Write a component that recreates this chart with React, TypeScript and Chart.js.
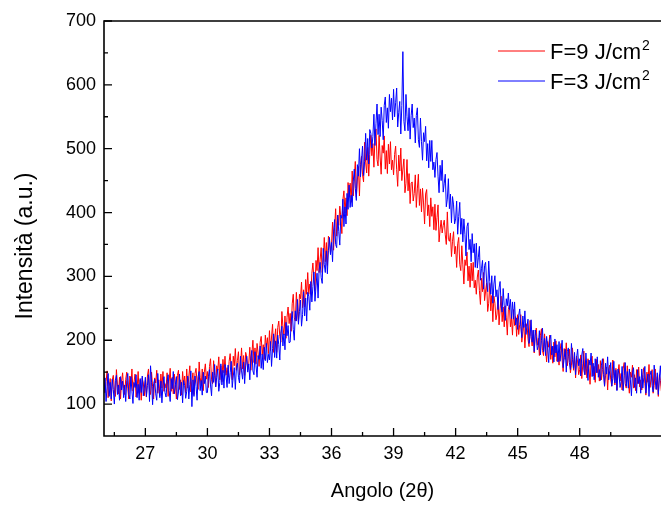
import { useEffect, useRef } from "react";
import { Chart, registerables } from "chart.js";

Chart.register(...registerables);

// ---- data ----
const ANGLE_START = 25; // 2θ of the first sample
const ANGLE_STEP = 0.05; // sampling step of the scan

const X_MIN = 25;
const X_MAX = 51.93;
const Y_MIN = 50;
const Y_MAX = 700;

const X_MAJOR_TICKS = [27, 30, 33, 36, 39, 42, 45, 48];
const X_MINOR_TICKS = [25.5, 28.5, 31.5, 34.5, 37.5, 40.5, 43.5, 46.5, 49.5];
const Y_MAJOR_TICKS = [100, 200, 300, 400, 500, 600, 700];
const Y_MINOR_TICKS = [150, 250, 350, 450, 550, 650];

const LABEL_F9 = "F=9 J/cm";
const LABEL_F3 = "F=3 J/cm";
const X_TITLE = "Angolo (2θ)";
const Y_TITLE = "Intensità (a.u.)";

// F = 9 J/cm² (red), one row per degree (25° … 51°), 0.05° steps
const SERIES_F9 = [
  148, 118, 135, 152, 110, 127, 140, 105, 138, 145, 122, 112, 154, 130, 116, 142, 108, 136, 149, 124,
  115, 139, 150, 125, 108, 144, 128, 155, 120, 134, 147, 111, 123, 151, 117, 138, 106, 141, 133, 113,
  137, 111, 144, 155, 122, 115, 150, 127, 108, 141, 133, 153, 117, 138, 113, 147, 125, 151, 120, 132,
  125, 149, 112, 136, 156, 120, 142, 116, 147, 131, 108, 145, 153, 123, 138, 114, 151, 130, 144, 118,
  155, 125, 143, 160, 119, 136, 149, 115, 148, 156, 133, 123, 166, 142, 129, 155, 121, 150, 163, 139,
  151, 126, 159, 171, 138, 132, 168, 145, 127, 160, 153, 174, 138, 160, 135, 170, 149, 175, 145, 157,
  142, 167, 179, 154, 138, 175, 160, 187, 153, 168, 182, 146, 159, 188, 155, 176, 145, 181, 174, 154,
  164, 189, 153, 179, 200, 165, 188, 163, 195, 180, 159, 197, 206, 177, 193, 170, 208, 189, 204, 179,
  215, 184, 205, 225, 181, 202, 218, 181, 220, 230, 206, 197, 245, 221, 208, 238, 203, 236, 252, 226,
  242, 214, 257, 272, 235, 230, 275, 249, 229, 272, 265, 291, 251, 279, 252, 295, 272, 306, 272, 288,
  272, 305, 321, 295, 278, 325, 309, 345, 306, 327, 345, 306, 324, 361, 323, 353, 317, 363, 357, 337,
  350, 385, 341, 376, 406, 363, 396, 380, 410, 393, 367, 420, 434, 399, 423, 395, 447, 424, 446, 416,
  465, 426, 453, 480, 424, 451, 472, 426, 475, 488, 459, 448, 510, 479, 462, 502, 457, 491, 521, 489,
  508, 471, 516, 531, 483, 473, 521, 487, 460, 505, 493, 520, 468, 497, 461, 507, 476, 511, 467, 482,
  459, 491, 504, 467, 441, 490, 465, 501, 450, 468, 484, 431, 446, 483, 434, 461, 414, 446, 448, 418,
  430, 459, 408, 437, 460, 411, 437, 401, 438, 415, 382, 429, 436, 395, 412, 378, 423, 394, 409, 373,
  413, 372, 392, 412, 354, 374, 388, 368, 380, 388, 365, 350, 401, 358, 355, 368, 331, 355, 370, 335,
  347, 314, 351, 361, 319, 309, 348, 318, 288, 326, 317, 338, 293, 316, 283, 321, 293, 322, 282, 294,
  272, 299, 310, 278, 256, 297, 276, 306, 262, 277, 290, 245, 258, 289, 246, 270, 229, 269, 258, 232,
  241, 267, 224, 249, 269, 229, 252, 221, 254, 235, 208, 248, 255, 221, 236, 208, 248, 223, 237, 206,
  240, 209, 225, 240, 197, 213, 225, 188, 220, 226, 202, 190, 231, 206, 191, 215, 180, 207, 219, 192,
  203, 176, 208, 218, 184, 176, 210, 186, 166, 198, 189, 208, 170, 190, 164, 197, 174, 199, 167, 178,
  161, 184, 195, 169, 151, 187, 170, 196, 160, 174, 186, 149, 161, 188, 153, 174, 141, 175, 166, 146,
  154, 177, 140, 163, 183, 146, 167, 141, 171, 155, 131, 167, 175, 144, 159, 134, 170, 149, 162, 136,
  168, 138, 154, 171, 128, 145, 158, 122, 155, 161, 138, 128, 169, 145, 130, 156, 122, 149, 162, 136,
  148, 122, 155, 165, 132, 125, 160, 136, 117, 150, 142, 161, 125, 146, 121, 154, 132, 158, 127, 138,
  122, 146, 157, 132, 114, 150, 134, 162, 126, 140, 154, 117, 129, 155, 123, 143, 112, 146, 137, 120,
];

// F = 3 J/cm² (blue)
const SERIES_F3 = [
  117, 141, 104, 128, 148, 112, 134, 108, 139, 123, 100, 137, 145, 115, 130, 106, 143, 122, 136, 110,
  130, 104, 137, 148, 115, 108, 143, 120, 101, 134, 126, 146, 110, 131, 106, 140, 118, 144, 113, 125,
  142, 112, 129, 146, 104, 160, 134, 99, 132, 139, 116, 106, 148, 124, 110, 136, 102, 130, 143, 118,
  111, 135, 146, 121, 104, 140, 124, 151, 116, 130, 143, 107, 119, 147, 113, 134, 102, 137, 129, 109,
  120, 144, 108, 131, 152, 96, 138, 112, 144, 128, 106, 143, 151, 121, 137, 114, 150, 132, 144, 118,
  118, 143, 154, 130, 113, 150, 134, 162, 127, 142, 155, 120, 134, 163, 130, 153, 125, 162, 145, 126,
  161, 132, 149, 167, 126, 144, 157, 123, 157, 164, 142, 133, 175, 152, 139, 166, 132, 161, 175, 150,
  163, 138, 172, 184, 152, 146, 182, 160, 142, 176, 170, 191, 156, 178, 154, 189, 168, 195, 165, 178,
  169, 198, 159, 187, 210, 173, 199, 172, 208, 193, 169, 211, 222, 191, 210, 185, 228, 207, 223, 196,
  197, 229, 245, 217, 200, 246, 230, 264, 225, 245, 263, 222, 240, 276, 238, 266, 230, 275, 269, 247,
  292, 260, 284, 307, 261, 285, 305, 266, 310, 322, 298, 289, 344, 319, 306, 340, 304, 341, 361, 334,
  353, 323, 371, 389, 350, 345, 396, 370, 349, 396, 391, 421, 378, 409, 382, 430, 405, 443, 408, 427,
  409, 448, 468, 438, 419, 475, 457, 500, 456, 481, 504, 458, 480, 524, 482, 516, 476, 530, 524, 501,
  519, 554, 505, 540, 570, 522, 554, 519, 565, 544, 514, 568, 581, 541, 564, 532, 585, 558, 579, 545,
  593, 550, 572, 595, 534, 557, 574, 523, 568, 652, 543, 528, 585, 550, 528, 564, 515, 552, 570, 533,
  548, 509, 552, 564, 514, 502, 548, 511, 482, 525, 511, 535, 481, 508, 470, 513, 480, 513, 467, 479,
  455, 483, 494, 457, 431, 474, 450, 482, 432, 446, 460, 409, 421, 453, 406, 429, 384, 425, 412, 382,
  390, 418, 366, 394, 416, 366, 391, 354, 390, 366, 332, 378, 384, 342, 358, 323, 367, 337, 351, 314,
  352, 313, 330, 347, 294, 312, 325, 280, 317, 322, 291, 276, 324, 292, 272, 301, 258, 288, 301, 268,
  279, 248, 282, 292, 254, 244, 281, 254, 231, 265, 254, 274, 248, 264, 234, 260, 233, 260, 224, 235,
  217, 239, 249, 222, 204, 238, 220, 246, 209, 222, 233, 195, 206, 232, 197, 216, 182, 216, 206, 185,
  192, 215, 177, 200, 219, 182, 203, 176, 206, 189, 165, 201, 208, 177, 191, 166, 202, 180, 193, 166,
  198, 167, 184, 200, 157, 173, 186, 150, 182, 188, 165, 154, 195, 170, 156, 181, 146, 173, 186, 160,
  171, 144, 177, 187, 153, 146, 180, 156, 137, 169, 161, 180, 143, 164, 138, 171, 149, 174, 142, 154,
  137, 161, 171, 146, 128, 164, 147, 174, 138, 152, 165, 128, 140, 167, 133, 153, 121, 155, 147, 126,
  135, 159, 121, 145, 165, 128, 151, 125, 155, 138, 113, 149, 157, 126, 141, 117, 154, 132, 143, 117,
  155, 125, 142, 159, 117, 134, 147, 112, 145, 152, 129, 119, 161, 137, 123, 149, 115, 141, 160, 128,
];

const RED = "#ff0000";
const BLUE = "#0000ff";
const FONT = "'Liberation Sans', Arial, Helvetica, sans-serif";

const toPoints = (vals: number[]) =>
  vals.map((y, i) => ({ x: +(ANGLE_START + i * ANGLE_STEP).toFixed(3), y }));

const framePlugin = {
  id: "originFrame",
  afterDraw(chart: any) {
    const { ctx, chartArea: a, scales } = chart;
    const xs = scales.x;
    const ys = scales.y;
    ctx.save();
    ctx.strokeStyle = "#000";
    ctx.fillStyle = "#000";

    // frame (left, top, bottom)
    ctx.lineWidth = 1.6;
    ctx.beginPath();
    ctx.moveTo(a.right + 2, a.top);
    ctx.lineTo(a.left, a.top);
    ctx.lineTo(a.left, a.bottom);
    ctx.lineTo(a.right + 2, a.bottom);
    ctx.stroke();

    // ticks (inward)
    ctx.lineWidth = 1.3;
    ctx.beginPath();
    X_MAJOR_TICKS.forEach((v) => {
      const p = xs.getPixelForValue(v);
      ctx.moveTo(p, a.bottom);
      ctx.lineTo(p, a.bottom - 8);
    });
    X_MINOR_TICKS.forEach((v) => {
      const p = xs.getPixelForValue(v);
      ctx.moveTo(p, a.bottom);
      ctx.lineTo(p, a.bottom - 4);
    });
    Y_MAJOR_TICKS.forEach((v) => {
      const p = ys.getPixelForValue(v);
      ctx.moveTo(a.left, p);
      ctx.lineTo(a.left + 8, p);
    });
    Y_MINOR_TICKS.forEach((v) => {
      const p = ys.getPixelForValue(v);
      ctx.moveTo(a.left, p);
      ctx.lineTo(a.left + 4, p);
    });
    ctx.stroke();

    // tick labels
    ctx.font = `18px ${FONT}`;
    ctx.textAlign = "center";
    ctx.textBaseline = "middle";
    X_MAJOR_TICKS.forEach((v) => {
      ctx.fillText(String(v), xs.getPixelForValue(v), a.bottom + 18);
    });
    ctx.textAlign = "right";
    Y_MAJOR_TICKS.forEach((v) => {
      ctx.fillText(String(v), a.left - 8, ys.getPixelForValue(v));
    });

    // axis titles
    ctx.font = `20px ${FONT}`;
    ctx.textAlign = "center";
    ctx.textBaseline = "middle";
    ctx.fillText(X_TITLE, (a.left + a.right) / 2, a.bottom + 55);
    ctx.save();
    ctx.font = `23px ${FONT}`;
    ctx.translate(26, 246);
    ctx.rotate(-Math.PI / 2);
    ctx.fillText(Y_TITLE, 0, 0);
    ctx.restore();

    // legend
    const items = [
      { label: LABEL_F9, color: RED, y: 51 },
      { label: LABEL_F3, color: BLUE, y: 81 },
    ];
    items.forEach((it) => {
      ctx.strokeStyle = it.color;
      ctx.lineWidth = 1;
      ctx.beginPath();
      ctx.moveTo(498, it.y);
      ctx.lineTo(545, it.y);
      ctx.stroke();
      ctx.fillStyle = "#000";
      ctx.font = `22px ${FONT}`;
      ctx.textAlign = "left";
      ctx.textBaseline = "alphabetic";
      ctx.fillText(it.label, 550, it.y + 8);
      const w = ctx.measureText(it.label).width;
      ctx.font = `14px ${FONT}`;
      ctx.fillText("2", 550 + w + 1, it.y - 1);
    });
    ctx.restore();
  },
};

export default function App() {
  const ref = useRef<HTMLCanvasElement | null>(null);
  useEffect(() => {
    if (!ref.current) return;
    const chart = new Chart(ref.current, {
      type: "line",
      data: {
        datasets: [
          {
            label: LABEL_F9 + "²",
            data: toPoints(SERIES_F9),
            borderColor: RED,
            borderWidth: 1,
            pointRadius: 0,
            tension: 0,
            order: 2,
          },
          {
            label: LABEL_F3 + "²",
            data: toPoints(SERIES_F3),
            borderColor: BLUE,
            borderWidth: 1,
            pointRadius: 0,
            tension: 0,
            order: 1,
          },
        ],
      },
      options: {
        responsive: false,
        maintainAspectRatio: false,
        animation: false,
        layout: { padding: { left: 104, top: 21, right: 0, bottom: 69 } },
        plugins: { legend: { display: false }, tooltip: { enabled: false } },
        scales: {
          x: { type: "linear", min: X_MIN, max: X_MAX, display: false },
          y: { type: "linear", min: Y_MIN, max: Y_MAX, display: false },
        },
      },
      plugins: [framePlugin],
    });
    return () => chart.destroy();
  }, []);
  return (
    <div style={{ position: "fixed", left: 0, top: 0, width: 661, height: 505, background: "#fff" }}>
      <canvas ref={ref} width={661} height={505} />
    </div>
  );
}
